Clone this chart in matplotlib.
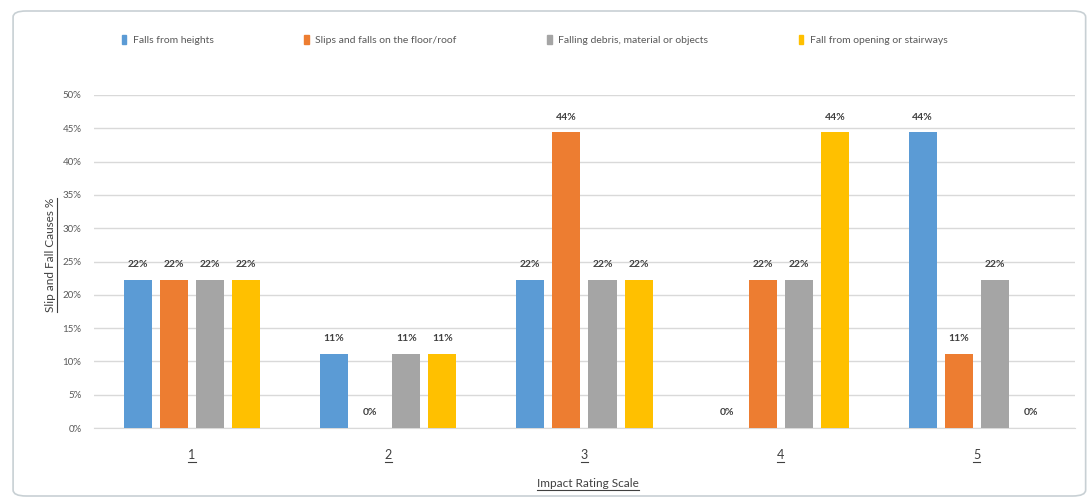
import numpy as np
import matplotlib.pyplot as plt
from matplotlib.patches import FancyBboxPatch
from matplotlib.lines import Line2D

plt.rcParams['font.family'] = ['Lato', 'DejaVu Sans']

categories = ['1', '2', '3', '4', '5']
series_names = ['Falls from heights', 'Slips and falls on the floor/roof',
                'Falling debris, material or objects', 'Fall from opening or stairways']
falls_heights = [22.2, 11.1, 22.2, 0.0, 44.4]
slips_floor = [22.2, 0.0, 44.4, 22.2, 11.1]
falling_debris = [22.2, 11.1, 22.2, 22.2, 22.2]
fall_opening = [22.2, 11.1, 22.2, 44.4, 0.0]
colors = ['#5b9bd5', '#ed7d31', '#a5a5a5', '#ffc000']

fig = plt.figure(figsize=(10.9, 5), dpi=100)
border = FancyBboxPatch((0.012, 0.008), 0.984, 0.97, boxstyle='round,pad=0,rounding_size=0.012',
                        transform=fig.transFigure, facecolor='white', edgecolor='#c8d0d4', lw=1.2,
                        zorder=-1)
fig.patches.append(border)

ax = fig.add_axes([0.0862, 0.144, 0.9, 0.666])
ax.patch.set_alpha(0)
x = np.arange(len(categories))
width = 0.143
pitch = 0.184
data = [falls_heights, slips_floor, falling_debris, fall_opening]
for i, (vals, c, name) in enumerate(zip(data, colors, series_names)):
    pos = x + (i - 1.5) * pitch
    bars = ax.bar(pos, vals, width, color=c, label=name, zorder=3)
    for b, v in zip(bars, vals):
        ax.text(b.get_x() + b.get_width() / 2, v + 1.6, f'{round(v)}%', ha='center',
                va='bottom', fontsize=7.5, color='#404040', fontweight='bold')

ax.set_ylim(0, 50)
ax.set_xlim(-0.5, 4.5)
ax.set_yticks(np.arange(0, 51, 5))
ax.set_yticklabels([f'{t}%' for t in range(0, 51, 5)], fontsize=7, color='#595959')
ax.set_xticks(x)
ax.set_xticklabels(categories, fontsize=9, color='#404040')
ax.tick_params(length=0)
ax.tick_params(axis='x', pad=15)
ax.tick_params(axis='y', pad=9)
ax.grid(axis='y', color='#d9d9d9', lw=1, zorder=0)
for s in ['top', 'right', 'left']:
    ax.spines[s].set_visible(False)
ax.spines['bottom'].set_color('#d9d9d9')

xl = fig.text(0.5395, 0.022, 'Impact Rating Scale', ha='center', va='bottom', fontsize=8.5, color='#404040')
yl = fig.text(0.046, 0.49, 'Slip and Fall Causes %', ha='center', va='center', rotation=90,
              fontsize=8.5, color='#404040')

handles = [plt.Rectangle((0, 0), 1, 1, color=c) for c in colors]
leg = fig.legend(handles, series_names, loc='center left', bbox_to_anchor=(0.103, 0.92), ncol=4,
                 frameon=False, fontsize=7.5, handlelength=0.45, handleheight=0.9, handletextpad=0.6,
                 columnspacing=8.7, labelcolor='#595959')

# underline texts
fig.canvas.draw()
r = fig.canvas.get_renderer()
inv = fig.transFigure.inverted()
def underline(t, rot=False):
    bb = t.get_window_extent(r)
    (x0, y0), (x1, y1) = inv.transform([(bb.x0, bb.y0), (bb.x1, bb.y1)])
    if rot:
        fig.add_artist(Line2D([x1 + 0.001, x1 + 0.001], [y0, y1], transform=fig.transFigure,
                              color='#404040', lw=0.8))
    else:
        fig.add_artist(Line2D([x0, x1], [y0 - 0.002, y0 - 0.002], transform=fig.transFigure,
                              color='#404040', lw=0.8))
underline(xl)
underline(yl, rot=True)
for t in ax.get_xticklabels():
    underline(t)

plt.savefig('out.png', dpi=100)
